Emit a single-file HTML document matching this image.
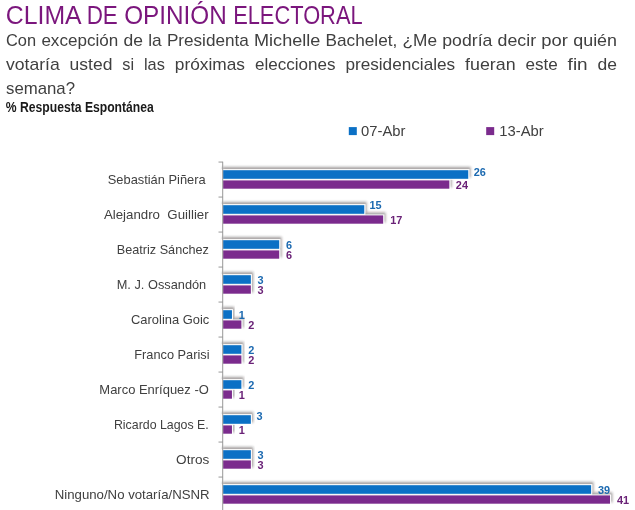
<!DOCTYPE html>
<html><head><meta charset="utf-8"><title>Clima de opinión electoral</title>
<style>
html,body{margin:0;padding:0;background:#fff;}
svg{display:block;font-family:"Liberation Sans",sans-serif;}
</style></head><body>
<svg width="635" height="510" viewBox="0 0 635 510">
<defs>
<filter id="sh" x="-5%" y="-80%" width="115%" height="260%">
<feDropShadow dx="1.4" dy="-2.3" stdDeviation="1.1" flood-color="#2b2420" flood-opacity="0.42"/>
</filter>
</defs>
<rect width="635" height="510" fill="#fff"/>
<text y="23.90" font-size="26.00" fill="#7b167d"><tspan x="5.80" textLength="74.48" lengthAdjust="spacingAndGlyphs">CLIMA</tspan> <tspan x="86.66" textLength="31.14" lengthAdjust="spacingAndGlyphs">DE</tspan> <tspan x="124.18" textLength="102.60" lengthAdjust="spacingAndGlyphs">OPINIÓN</tspan> <tspan x="233.16" textLength="129.43" lengthAdjust="spacingAndGlyphs">ELECTORAL</tspan></text>
<text y="46.20" font-size="17.35" fill="#404040"><tspan x="6.00" textLength="30.13" lengthAdjust="spacingAndGlyphs">Con</tspan> <tspan x="41.39" textLength="76.84" lengthAdjust="spacingAndGlyphs">excepción</tspan> <tspan x="123.48" textLength="19.44" lengthAdjust="spacingAndGlyphs">de</tspan> <tspan x="148.18" textLength="13.46" lengthAdjust="spacingAndGlyphs">la</tspan> <tspan x="166.90" textLength="81.91" lengthAdjust="spacingAndGlyphs">Presidenta</tspan> <tspan x="254.06" textLength="66.25" lengthAdjust="spacingAndGlyphs">Michelle</tspan> <tspan x="325.57" textLength="71.72" lengthAdjust="spacingAndGlyphs">Bachelet,</tspan> <tspan x="402.55" textLength="34.50" lengthAdjust="spacingAndGlyphs">¿Me</tspan> <tspan x="442.31" textLength="50.07" lengthAdjust="spacingAndGlyphs">podría</tspan> <tspan x="497.64" textLength="38.46" lengthAdjust="spacingAndGlyphs">decir</tspan> <tspan x="541.35" textLength="26.63" lengthAdjust="spacingAndGlyphs">por</tspan> <tspan x="573.24" textLength="43.76" lengthAdjust="spacingAndGlyphs">quién</tspan></text>
<text y="69.90" font-size="17.35" fill="#404040"><tspan x="6.00" textLength="53.74" lengthAdjust="spacingAndGlyphs">votaría</tspan> <tspan x="69.63" textLength="42.80" lengthAdjust="spacingAndGlyphs">usted</tspan> <tspan x="122.31" textLength="11.79" lengthAdjust="spacingAndGlyphs">si</tspan> <tspan x="143.99" textLength="20.89" lengthAdjust="spacingAndGlyphs">las</tspan> <tspan x="174.77" textLength="70.25" lengthAdjust="spacingAndGlyphs">próximas</tspan> <tspan x="254.91" textLength="80.58" lengthAdjust="spacingAndGlyphs">elecciones</tspan> <tspan x="345.38" textLength="109.76" lengthAdjust="spacingAndGlyphs">presidenciales</tspan> <tspan x="465.03" textLength="50.55" lengthAdjust="spacingAndGlyphs">fueran</tspan> <tspan x="525.47" textLength="32.29" lengthAdjust="spacingAndGlyphs">este</tspan> <tspan x="567.64" textLength="20.04" lengthAdjust="spacingAndGlyphs">fin</tspan> <tspan x="597.56" textLength="19.44" lengthAdjust="spacingAndGlyphs">de</tspan></text>
<text x="6.00" y="93.50" font-size="17.35" fill="#404040" textLength="69.05" lengthAdjust="spacingAndGlyphs">semana?</text>
<text x="5.80" y="112.35" font-size="13.90" font-weight="bold" fill="#1a1a1a" textLength="148.02" lengthAdjust="spacingAndGlyphs">% Respuesta Espontánea</text>
<rect x="348.8" y="127.1" width="8" height="8" fill="#0b70c5"/>
<rect x="486.2" y="127.1" width="8" height="8" fill="#7b2b8d"/>
<text x="361.10" y="135.70" font-size="14.80" fill="#404040" textLength="44.36" lengthAdjust="spacingAndGlyphs">07-Abr</text>
<text x="499.30" y="135.70" font-size="14.80" fill="#404040" textLength="44.36" lengthAdjust="spacingAndGlyphs">13-Abr</text>
<text x="107.77" y="184.10" font-size="13.30" fill="#404040" textLength="97.87" lengthAdjust="spacingAndGlyphs">Sebastián Piñera</text>
<rect x="221.1" y="179.70" width="229.25" height="10.0" fill="#fff" filter="url(#sh)"/>
<rect x="223.1" y="180.40" width="226.25" height="8.3" fill="#7b2b8d"/>
<rect x="221.1" y="169.20" width="248.15" height="10.6" fill="#fff" filter="url(#sh)"/>
<rect x="223.1" y="170.20" width="245.15" height="8.6" fill="#0b70c5"/>
<text x="473.74" y="175.70" font-size="11.00" font-weight="bold" fill="#1b69b0" textLength="12.16" lengthAdjust="spacingAndGlyphs">26</text>
<text x="455.86" y="188.70" font-size="11.00" font-weight="bold" fill="#6a2277" textLength="12.16" lengthAdjust="spacingAndGlyphs">24</text>
<text x="103.91" y="219.10" font-size="13.30" fill="#404040" textLength="104.74" lengthAdjust="spacingAndGlyphs">Alejandro  Guillier</text>
<rect x="221.1" y="214.70" width="163.08" height="10.0" fill="#fff" filter="url(#sh)"/>
<rect x="223.1" y="215.40" width="160.08" height="8.3" fill="#7b2b8d"/>
<rect x="221.1" y="204.20" width="144.18" height="10.6" fill="#fff" filter="url(#sh)"/>
<rect x="223.1" y="205.20" width="141.18" height="8.6" fill="#0b70c5"/>
<text x="369.50" y="209.30" font-size="11.00" font-weight="bold" fill="#1b69b0" textLength="12.16" lengthAdjust="spacingAndGlyphs">15</text>
<text x="390.18" y="223.70" font-size="11.00" font-weight="bold" fill="#6a2277" textLength="12.16" lengthAdjust="spacingAndGlyphs">17</text>
<text x="116.74" y="254.10" font-size="13.30" fill="#404040" textLength="92.17" lengthAdjust="spacingAndGlyphs">Beatriz Sánchez</text>
<rect x="221.1" y="249.70" width="59.11" height="10.0" fill="#fff" filter="url(#sh)"/>
<rect x="223.1" y="250.40" width="56.11" height="8.3" fill="#7b2b8d"/>
<rect x="221.1" y="239.20" width="59.11" height="10.6" fill="#fff" filter="url(#sh)"/>
<rect x="223.1" y="240.20" width="56.11" height="8.6" fill="#0b70c5"/>
<text x="285.94" y="248.50" font-size="11.00" font-weight="bold" fill="#1b69b0" textLength="6.08" lengthAdjust="spacingAndGlyphs">6</text>
<text x="285.94" y="258.70" font-size="11.00" font-weight="bold" fill="#6a2277" textLength="6.08" lengthAdjust="spacingAndGlyphs">6</text>
<text x="116.72" y="289.10" font-size="13.30" fill="#404040" textLength="89.49" lengthAdjust="spacingAndGlyphs">M. J. Ossandón</text>
<rect x="221.1" y="284.70" width="30.76" height="10.0" fill="#fff" filter="url(#sh)"/>
<rect x="223.1" y="285.40" width="27.76" height="8.3" fill="#7b2b8d"/>
<rect x="221.1" y="274.20" width="30.76" height="10.6" fill="#fff" filter="url(#sh)"/>
<rect x="223.1" y="275.20" width="27.76" height="8.6" fill="#0b70c5"/>
<text x="257.62" y="283.50" font-size="11.00" font-weight="bold" fill="#1b69b0" textLength="6.08" lengthAdjust="spacingAndGlyphs">3</text>
<text x="257.62" y="293.70" font-size="11.00" font-weight="bold" fill="#6a2277" textLength="6.08" lengthAdjust="spacingAndGlyphs">3</text>
<text x="131.06" y="324.10" font-size="13.30" fill="#404040" textLength="78.21" lengthAdjust="spacingAndGlyphs">Carolina Goic</text>
<rect x="221.1" y="319.70" width="21.30" height="10.0" fill="#fff" filter="url(#sh)"/>
<rect x="223.1" y="320.40" width="18.30" height="8.3" fill="#7b2b8d"/>
<rect x="221.1" y="309.20" width="11.85" height="10.6" fill="#fff" filter="url(#sh)"/>
<rect x="223.1" y="310.20" width="8.85" height="8.6" fill="#0b70c5"/>
<text x="238.74" y="318.50" font-size="11.00" font-weight="bold" fill="#1b69b0" textLength="6.08" lengthAdjust="spacingAndGlyphs">1</text>
<text x="248.18" y="328.70" font-size="11.00" font-weight="bold" fill="#6a2277" textLength="6.08" lengthAdjust="spacingAndGlyphs">2</text>
<text x="134.31" y="359.10" font-size="13.30" fill="#404040" textLength="75.17" lengthAdjust="spacingAndGlyphs">Franco Parisi</text>
<rect x="221.1" y="354.70" width="21.30" height="10.0" fill="#fff" filter="url(#sh)"/>
<rect x="223.1" y="355.40" width="18.30" height="8.3" fill="#7b2b8d"/>
<rect x="221.1" y="344.20" width="21.30" height="10.6" fill="#fff" filter="url(#sh)"/>
<rect x="223.1" y="345.20" width="18.30" height="8.6" fill="#0b70c5"/>
<text x="248.18" y="353.50" font-size="11.00" font-weight="bold" fill="#1b69b0" textLength="6.08" lengthAdjust="spacingAndGlyphs">2</text>
<text x="248.18" y="363.70" font-size="11.00" font-weight="bold" fill="#6a2277" textLength="6.08" lengthAdjust="spacingAndGlyphs">2</text>
<text x="99.35" y="394.10" font-size="13.30" fill="#404040" textLength="109.45" lengthAdjust="spacingAndGlyphs">Marco Enríquez -O</text>
<rect x="221.1" y="389.70" width="11.85" height="10.0" fill="#fff" filter="url(#sh)"/>
<rect x="223.1" y="390.40" width="8.85" height="8.3" fill="#7b2b8d"/>
<rect x="221.1" y="379.20" width="21.30" height="10.6" fill="#fff" filter="url(#sh)"/>
<rect x="223.1" y="380.20" width="18.30" height="8.6" fill="#0b70c5"/>
<text x="248.18" y="388.50" font-size="11.00" font-weight="bold" fill="#1b69b0" textLength="6.08" lengthAdjust="spacingAndGlyphs">2</text>
<text x="238.74" y="398.70" font-size="11.00" font-weight="bold" fill="#6a2277" textLength="6.08" lengthAdjust="spacingAndGlyphs">1</text>
<text x="113.94" y="429.10" font-size="13.30" fill="#404040" textLength="94.82" lengthAdjust="spacingAndGlyphs">Ricardo Lagos E.</text>
<rect x="221.1" y="424.70" width="11.85" height="10.0" fill="#fff" filter="url(#sh)"/>
<rect x="223.1" y="425.40" width="8.85" height="8.3" fill="#7b2b8d"/>
<rect x="221.1" y="414.20" width="30.76" height="10.6" fill="#fff" filter="url(#sh)"/>
<rect x="223.1" y="415.20" width="27.76" height="8.6" fill="#0b70c5"/>
<text x="256.62" y="420.10" font-size="11.00" font-weight="bold" fill="#1b69b0" textLength="6.08" lengthAdjust="spacingAndGlyphs">3</text>
<text x="238.74" y="433.70" font-size="11.00" font-weight="bold" fill="#6a2277" textLength="6.08" lengthAdjust="spacingAndGlyphs">1</text>
<text x="176.09" y="464.10" font-size="13.30" fill="#404040" textLength="33.23" lengthAdjust="spacingAndGlyphs">Otros</text>
<rect x="221.1" y="459.70" width="30.76" height="10.0" fill="#fff" filter="url(#sh)"/>
<rect x="223.1" y="460.40" width="27.76" height="8.3" fill="#7b2b8d"/>
<rect x="221.1" y="449.20" width="30.76" height="10.6" fill="#fff" filter="url(#sh)"/>
<rect x="223.1" y="450.20" width="27.76" height="8.6" fill="#0b70c5"/>
<text x="257.62" y="458.50" font-size="11.00" font-weight="bold" fill="#1b69b0" textLength="6.08" lengthAdjust="spacingAndGlyphs">3</text>
<text x="257.62" y="468.70" font-size="11.00" font-weight="bold" fill="#6a2277" textLength="6.08" lengthAdjust="spacingAndGlyphs">3</text>
<text x="54.76" y="499.10" font-size="13.30" fill="#404040" textLength="154.87" lengthAdjust="spacingAndGlyphs">Ninguno/No votaría/NSNR</text>
<rect x="221.1" y="494.70" width="389.93" height="10.0" fill="#fff" filter="url(#sh)"/>
<rect x="223.1" y="495.40" width="386.93" height="8.3" fill="#7b2b8d"/>
<rect x="221.1" y="484.20" width="371.03" height="10.6" fill="#fff" filter="url(#sh)"/>
<rect x="223.1" y="485.20" width="368.03" height="8.6" fill="#0b70c5"/>
<text x="597.96" y="493.60" font-size="11.00" font-weight="bold" fill="#1b69b0" textLength="12.16" lengthAdjust="spacingAndGlyphs">39</text>
<text x="617.04" y="503.90" font-size="11.00" font-weight="bold" fill="#6a2277" textLength="12.16" lengthAdjust="spacingAndGlyphs">41</text>
<rect x="222.2" y="161.7" width="1.0" height="349" fill="#989898"/>
<rect x="218.5" y="161.60" width="4.2" height="0.9" fill="#8e8e8e"/>
<rect x="218.5" y="196.60" width="4.2" height="0.9" fill="#8e8e8e"/>
<rect x="218.5" y="231.60" width="4.2" height="0.9" fill="#8e8e8e"/>
<rect x="218.5" y="266.60" width="4.2" height="0.9" fill="#8e8e8e"/>
<rect x="218.5" y="301.60" width="4.2" height="0.9" fill="#8e8e8e"/>
<rect x="218.5" y="336.60" width="4.2" height="0.9" fill="#8e8e8e"/>
<rect x="218.5" y="371.60" width="4.2" height="0.9" fill="#8e8e8e"/>
<rect x="218.5" y="406.60" width="4.2" height="0.9" fill="#8e8e8e"/>
<rect x="218.5" y="441.60" width="4.2" height="0.9" fill="#8e8e8e"/>
<rect x="218.5" y="476.60" width="4.2" height="0.9" fill="#8e8e8e"/>
<rect x="218.5" y="511.60" width="4.2" height="0.9" fill="#8e8e8e"/>
</svg>
</body></html>
